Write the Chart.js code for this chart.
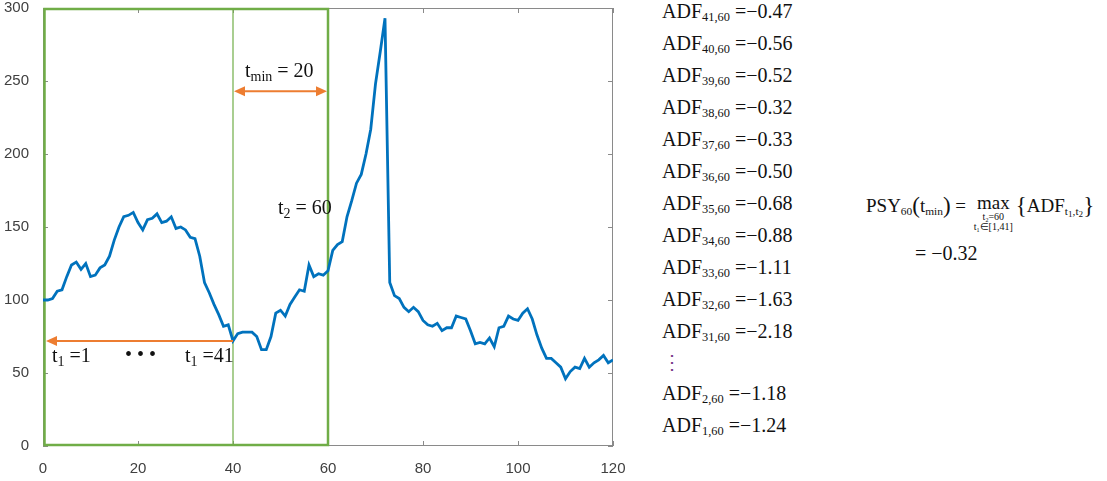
<!DOCTYPE html>
<html>
<head>
<meta charset="utf-8">
<script src="https://cdn.jsdelivr.net/npm/chart.js@4"></script>
<style>
  html, body { margin: 0; padding: 0; background: #fff; }
  #wrap { position: relative; width: 1107px; height: 481px; overflow: hidden; }
  #chart-box { position: absolute; left: 0; top: 0; width: 640px; height: 481px; }
  .serif { font-family: "Liberation Serif", "Times New Roman", serif; color: #111; position: absolute; white-space: nowrap; }
  .serif sub { font-size: 62%; vertical-align: -0.25em; line-height: 0; }
  .ann { font-size: 20px; }
  .ann sub { font-size: 70%; }
  .adf { font-size: 20px; }
  .dots { color: #7a3e8a; }
  .formula { font-size: 19px; }
  .formula sub { font-size: 60%; }
  .formula sub sub { font-size: 80%; }
  .big { font-size: 23px; vertical-align: -1px; }
  .frac { display: inline-block; vertical-align: top; text-align: center; line-height: 1; margin: 0 3px; }
  .frac .under { display: block; font-size: 10px; line-height: 10px; }
</style>
</head>
<body>
<div id="wrap">
  <div id="chart-box"><canvas id="chart" width="640" height="481"></canvas></div>
  <div id="texts"></div>
</div>
<script>
// price series, t = 0..120
const tValues = Array.from({ length: 121 }, (_, i) => i);
const prices = [
  100, 100, 101, 106, 107, 116, 124, 126, 121, 125,
  116, 117, 122, 124, 130, 141, 150, 157, 158, 160,
  153, 148, 155, 156, 159, 153, 154, 157, 149, 150,
  148, 143, 142, 130, 112, 105, 97, 90, 82, 83,
  72, 77, 78, 78, 78, 75, 66, 66, 75, 91,
  93, 89, 97, 102, 107, 106, 124, 116, 118, 117,
  120, 134, 138, 140, 157, 168, 180, 186, 200, 217,
  248, 270, 293, 112, 103, 101, 95, 92, 95, 92,
  86, 83, 82, 84, 79, 81, 81, 89, 88, 87,
  79, 70, 71, 70, 74, 68, 81, 82, 89, 87,
  86, 91, 94, 87, 76, 67, 60, 60, 57, 54,
  46, 51, 54, 53, 60, 54, 57, 59, 62, 57, 59
];
const xTicks = [0, 20, 40, 60, 80, 100, 120];
const yTicks = [0, 50, 100, 150, 200, 250, 300];

// windows and arrows
const windowStart = 0, windowSplit = 40, windowEnd = 60;
const tminArrowY = 243;
const t1ArrowY = 72;

// right-hand list
const adfT1 = ['41', '40', '39', '38', '37', '36', '35', '34', '33', '32', '31', '2', '1'];
const adfValues = ['0.47', '0.56', '0.52', '0.32', '0.33', '0.50', '0.68', '0.88', '1.11', '1.63', '2.18', '1.18', '1.24'];
const psyValue = '0.32';

const GREEN = '#70AD47';
const ORANGE = '#ED7D31';
const AXIS = '#8a8a8a';

function arrowHead(ctx, x, y, dir) {
  ctx.beginPath();
  ctx.moveTo(x, y);
  ctx.lineTo(x - dir * 11, y - 5);
  ctx.lineTo(x - dir * 11, y + 5);
  ctx.closePath();
  ctx.fill();
}

const overlay = {
  id: 'overlay',
  beforeDatasetsDraw(chart) {
    const { ctx, chartArea: a, scales: { x, y } } = chart;
    ctx.save();
    // box and inward ticks
    ctx.strokeStyle = AXIS;
    ctx.lineWidth = 1;
    ctx.strokeRect(a.left + 0.5, a.top + 0.5, a.right - a.left - 1, a.bottom - a.top - 1);
    xTicks.forEach(v => {
      const px = Math.round(x.getPixelForValue(v)) + 0.5;
      ctx.beginPath();
      ctx.moveTo(px, a.bottom); ctx.lineTo(px, a.bottom - 5);
      ctx.moveTo(px, a.top); ctx.lineTo(px, a.top + 5);
      ctx.stroke();
    });
    yTicks.forEach(v => {
      const py = Math.round(y.getPixelForValue(v)) + 0.5;
      ctx.beginPath();
      ctx.moveTo(a.left, py); ctx.lineTo(a.left + 5, py);
      ctx.moveTo(a.right, py); ctx.lineTo(a.right - 5, py);
      ctx.stroke();
    });
    // green windows
    ctx.strokeStyle = GREEN;
    ctx.lineWidth = 2.5;
    const x0 = x.getPixelForValue(windowStart) + 1.5, x1 = x.getPixelForValue(windowEnd);
    const y0 = y.getPixelForValue(300) + 1, y1 = y.getPixelForValue(0) - 1;
    ctx.strokeRect(x0, y0, x1 - x0, y1 - y0);
    ctx.lineWidth = 1.2;
    const xs = x.getPixelForValue(windowSplit);
    ctx.beginPath();
    ctx.moveTo(xs, y0); ctx.lineTo(xs, y1);
    ctx.stroke();
    ctx.restore();
  },
  afterDatasetsDraw(chart) {
    const { ctx, scales: { x, y } } = chart;
    ctx.save();
    ctx.strokeStyle = ORANGE;
    ctx.fillStyle = ORANGE;
    ctx.lineWidth = 2;
    // t_min arrow
    const ay = y.getPixelForValue(tminArrowY);
    const ax0 = x.getPixelForValue(windowSplit) + 1, ax1 = x.getPixelForValue(windowEnd) - 1;
    ctx.beginPath(); ctx.moveTo(ax0 + 8, ay); ctx.lineTo(ax1 - 8, ay); ctx.stroke();
    arrowHead(ctx, ax0, ay, -1);
    arrowHead(ctx, ax1, ay, 1);
    // t1 arrow
    const by = y.getPixelForValue(t1ArrowY);
    const bx0 = x.getPixelForValue(windowStart) + 3, bx1 = x.getPixelForValue(windowSplit);
    ctx.beginPath(); ctx.moveTo(bx0 + 8, by); ctx.lineTo(bx1, by); ctx.stroke();
    arrowHead(ctx, bx0, by, -1);
    ctx.restore();
  }
};

new Chart(document.getElementById('chart'), {
  type: 'line',
  data: {
    labels: tValues,
    datasets: [{
      data: tValues.map((t, i) => ({ x: t, y: prices[i] })),
      borderColor: '#0072BD',
      borderWidth: 2.8,
      pointRadius: 0,
      tension: 0,
      fill: false
    }]
  },
  options: {
    responsive: false,
    animation: false,
    events: [],
    layout: { padding: { top: 8, right: 27, left: 0, bottom: 0 } },
    plugins: { legend: { display: false }, tooltip: { enabled: false } },
    scales: {
      x: {
        type: 'linear', min: 0, max: 120,
        afterBuildTicks: s => { s.ticks = xTicks.map(v => ({ value: v })); },
        afterFit: s => { s.height = 35; s.paddingLeft = 0; s.paddingRight = 0; },
        grid: { display: false },
        border: { display: false },
        ticks: { color: '#404040', padding: 6, maxRotation: 0, font: { family: 'Liberation Sans, Arial, sans-serif', size: 15 } }
      },
      y: {
        min: 0, max: 300,
        afterBuildTicks: s => { s.ticks = yTicks.map(v => ({ value: v })); },
        afterFit: s => { s.width = 43; s.paddingTop = 0; s.paddingBottom = 0; },
        grid: { display: false },
        border: { display: false },
        ticks: { color: '#404040', padding: 6, font: { family: 'Liberation Sans, Arial, sans-serif', size: 15 } }
      }
    }
  },
  plugins: [overlay]
});

// text annotations
const texts = document.getElementById('texts');
function addText(html, cls, left, top) {
  const d = document.createElement('div');
  d.className = 'serif ' + cls;
  d.style.left = left + 'px';
  d.style.top = top + 'px';
  d.innerHTML = html;
  texts.appendChild(d);
}
addText('t<sub>min</sub> = 20', 'ann', 245, 59);
addText('t<sub>2</sub> = 60', 'ann', 278, 196);
addText('t<sub>1</sub> =1', 'ann', 52, 344);
addText('&bull; &bull; &bull;', 'ann', 125, 343);
addText('t<sub>1</sub> =41', 'ann', 185, 344);

const rowTops = [0, 32, 64, 96, 128, 160, 192, 224, 256, 288, 320, 382, 414];
adfT1.forEach((t1, i) => {
  addText('ADF<sub>' + t1 + ',60</sub> =&minus;' + adfValues[i], 'adf', 662, rowTops[i]);
});
addText('&#8942;', 'adf dots', 662, 350);

addText('PSY<sub>60</sub><span class="big">(</span>t<sub>min</sub><span class="big">)</span> = <span class="frac">max<span class="under">t<sub>2</sub>=60</span><span class="under">t<sub>1</sub>&isin;[1,41]</span></span><span class="big">{</span>ADF<sub>t<sub>1</sub>,t<sub>2</sub></sub><span class="big">}</span>', 'formula', 866, 193);
addText('= &minus;' + psyValue, 'ann', 915, 242);
</script>
</body>
</html>
